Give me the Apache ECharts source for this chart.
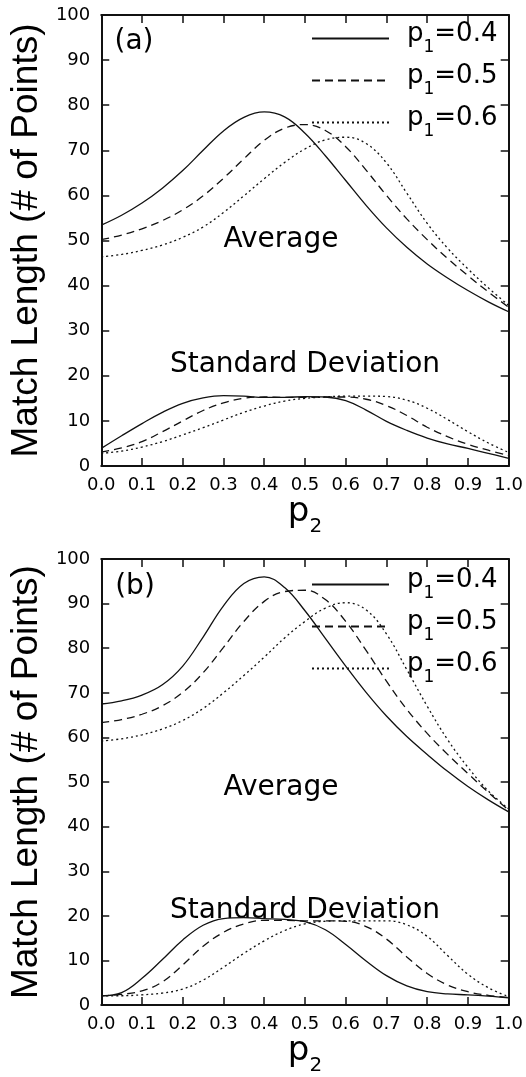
<!DOCTYPE html>
<html>
<head>
<meta charset="utf-8">
<script src="https://cdn.jsdelivr.net/npm/echarts@6/dist/echarts.min.js"></script>
<style>
  html, body { margin: 0; padding: 0; background: #fff; }
  #chart { width: 526px; height: 1077px; }
</style>
</head>
<body>
<div id="chart"></div>
<script>
// x values (p2)
var p2 = [0.00, 0.05, 0.10, 0.15, 0.20, 0.25, 0.30, 0.35, 0.40, 0.45, 0.50,
          0.55, 0.60, 0.65, 0.70, 0.75, 0.80, 0.85, 0.90, 0.95, 1.00];
var seriesNames = ['p1=0.4', 'p1=0.5', 'p1=0.6'];

// panel (a) - average
var avgA04 = [53.4, 55.6, 58.3, 61.6, 65.5, 70.0, 74.3, 77.3, 78.5, 77.4, 73.8,
              68.8, 63.3, 57.8, 52.8, 48.5, 44.8, 41.7, 38.9, 36.4, 34.2];
var avgA05 = [50.2, 51.2, 52.6, 54.4, 56.8, 59.9, 63.8, 68.1, 72.2, 74.9, 75.7,
              74.4, 70.8, 65.6, 60.0, 54.8, 50.2, 46.0, 42.2, 38.6, 35.2];
var avgA06 = [46.4, 46.9, 47.8, 49.0, 50.7, 53.0, 56.2, 59.9, 63.7, 67.3, 70.3,
              72.3, 72.9, 71.5, 67.2, 60.5, 53.8, 48.3, 43.7, 39.5, 35.6];
// panel (a) - standard deviation
var sdA04 = [3.9, 6.7, 9.4, 11.9, 13.9, 15.1, 15.6, 15.5, 15.2, 15.2, 15.4,
             15.3, 14.5, 12.4, 9.9, 7.9, 6.2, 4.9, 3.9, 2.8, 1.7];
var sdA05 = [3.1, 4.0, 5.4, 7.6, 10.0, 12.3, 14.0, 15.0, 15.3, 15.2, 15.2,
             15.3, 15.3, 14.8, 13.4, 11.2, 8.6, 6.5, 4.8, 3.5, 2.3];
var sdA06 = [2.8, 3.3, 4.2, 5.4, 6.9, 8.5, 10.2, 11.9, 13.3, 14.4, 15.0,
             15.3, 15.5, 15.5, 15.4, 14.6, 12.8, 10.3, 7.6, 5.1, 3.0];

// panel (b) - average
var avgB04 = [67.5, 68.2, 69.5, 71.8, 76.0, 82.5, 89.5, 94.5, 96.0, 93.6, 88.4,
              82.2, 76.0, 70.1, 64.8, 60.2, 56.2, 52.4, 49.0, 46.0, 43.3];
var avgB05 = [63.3, 64.0, 65.2, 67.1, 70.1, 74.5, 80.2, 86.0, 90.5, 92.7, 93.0,
              90.9, 86.0, 79.5, 72.6, 66.3, 60.9, 56.2, 51.9, 47.7, 43.7];
var avgB06 = [59.2, 59.7, 60.6, 61.9, 63.8, 66.5, 70.0, 73.9, 78.0, 82.3, 86.0,
              89.0, 90.2, 88.6, 83.2, 75.2, 67.0, 59.5, 53.3, 48.0, 44.0];
// panel (b) - standard deviation
var sdB04 = [2.1, 2.8, 6.0, 10.2, 14.6, 17.9, 19.4, 19.6, 19.4, 19.2, 18.7,
             16.9, 13.6, 9.9, 6.6, 4.3, 3.0, 2.5, 2.3, 2.0, 1.6];
var sdB05 = [2.1, 2.4, 3.2, 5.2, 9.0, 13.2, 16.3, 18.2, 19.0, 19.0, 18.9,
             18.9, 18.8, 17.6, 14.8, 10.8, 7.1, 4.5, 3.0, 2.2, 1.7];
var sdB06 = [2.1, 2.1, 2.3, 2.7, 3.6, 5.6, 8.5, 11.6, 14.4, 16.7, 18.2,
             18.8, 18.9, 18.9, 18.9, 18.0, 15.4, 11.1, 6.9, 3.9, 1.9];

var ink = '#111';
var dashTypes = ['solid', [8, 5], [2, 3]];

function pairs(ys) {
  return p2.map(function (x, i) { return [x, ys[i]]; });
}

function line(k, ys, panel) {
  return {
    name: seriesNames[k],
    type: 'line',
    xAxisIndex: panel * 2,
    yAxisIndex: panel * 2,
    data: pairs(ys),
    smooth: 0.4,
    symbol: 'none',
    lineStyle: { color: ink, width: 1.3, type: dashTypes[k] },
    itemStyle: { color: ink }
  };
}

function xAx(grid, top) {
  return {
    type: 'value', gridIndex: grid, position: top ? 'top' : 'bottom',
    min: 0, max: 1, interval: 0.1,
    axisLine: { show: true, onZero: false, lineStyle: { color: ink, width: 2 } },
    axisTick: { show: true, inside: true, length: 8, lineStyle: { color: ink, width: 1.5 } },
    axisLabel: {
      show: !top, margin: 10, color: '#000',
      fontFamily: 'DejaVu Sans', fontSize: 18,
      showMinLabel: true, showMaxLabel: true,
      formatter: function (v) { return v.toFixed(1); }
    },
    splitLine: { show: false },
    name: top ? '' : '{p|p}{s|2}',
    nameLocation: 'middle',
    nameGap: 24,
    nameTextStyle: {
      rich: {
        p: { fontFamily: 'DejaVu Sans', fontSize: 34, color: '#000', verticalAlign: 'top' },
        s: { fontFamily: 'DejaVu Sans', fontSize: 20, color: '#000', verticalAlign: 'bottom', padding: [22, 0, 0, 0] }
      }
    }
  };
}

function yAx(grid, right) {
  return {
    type: 'value', gridIndex: grid, position: right ? 'right' : 'left',
    min: 0, max: 100, interval: 10,
    axisLine: { show: true, onZero: false, lineStyle: { color: ink, width: 2 } },
    axisTick: { show: true, inside: true, length: 8, lineStyle: { color: ink, width: 1.5 } },
    axisLabel: { show: !right, margin: 11, color: '#000', fontFamily: 'DejaVu Sans', fontSize: 18 },
    splitLine: { show: false },
    name: right ? '' : 'Match Length (# of Points)',
    nameLocation: 'middle',
    nameRotate: 90,
    nameGap: 43,
    nameTextStyle: { fontFamily: 'Liberation Sans', fontSize: 37, color: '#000' }
  };
}

function legendAt(top) {
  return {
    orient: 'vertical', left: 306, top: top,
    itemWidth: 77, itemHeight: 14, itemGap: 7,
    selectedMode: false,
    data: seriesNames,
    itemStyle: { opacity: 0 },
    formatter: function (name) {
      return '{p|p}{s|1}{p|' + name.slice(2) + '}';
    },
    textStyle: {
      padding: [0, 0, 0, 13],
      rich: {
        p: { fontFamily: 'DejaVu Sans', fontSize: 26, color: '#000', verticalAlign: 'top' },
        s: { fontFamily: 'DejaVu Sans', fontSize: 17, color: '#000', verticalAlign: 'bottom', padding: [18, 0, 0, 0] }
      }
    }
  };
}

function label(text, x, y) {
  return {
    type: 'text', x: x, y: y, silent: true,
    style: {
      text: text, fill: '#000', font: '28px "DejaVu Sans"',
      textAlign: 'center', textVerticalAlign: 'middle'
    }
  };
}

var chart = echarts.init(document.getElementById('chart'));
chart.setOption({
  animation: false,
  backgroundColor: '#fff',
  grid: [
    { left: 88, top: 15, width: 422, height: 451 },
    { left: 88, top: 559, width: 422, height: 452 }
  ],
  xAxis: [xAx(0, false), xAx(0, true), xAx(1, false), xAx(1, true)],
  yAxis: [yAx(0, false), yAx(0, true), yAx(1, false), yAx(1, true)],
  legend: [legendAt(16), legendAt(562)],
  graphic: [
    label('(a)', 134, 42),
    label('Average', 281, 240),
    label('Standard Deviation', 305, 365),
    label('(b)', 135, 587),
    label('Average', 281, 788),
    label('Standard Deviation', 305, 911)
  ],
  series: [
    line(0, avgA04, 0), line(1, avgA05, 0), line(2, avgA06, 0),
    line(0, sdA04, 0), line(1, sdA05, 0), line(2, sdA06, 0),
    line(0, avgB04, 1), line(1, avgB05, 1), line(2, avgB06, 1),
    line(0, sdB04, 1), line(1, sdB05, 1), line(2, sdB06, 1)
  ]
});
</script>
</body>
</html>
